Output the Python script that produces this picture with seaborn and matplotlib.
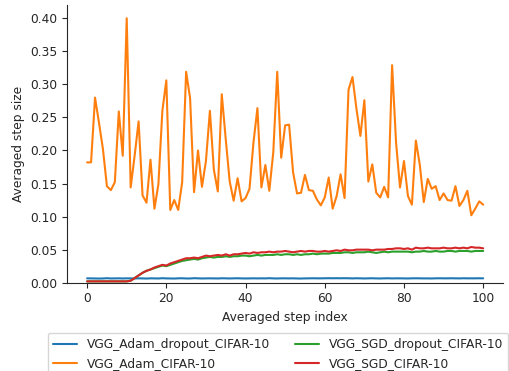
import numpy as np
import pandas as pd
import matplotlib
matplotlib.use("Agg")
import matplotlib.pyplot as plt
import seaborn as sns

steps = list(range(101))

adam_dropout = [0.0066, 0.0065, 0.0064, 0.0063, 0.0064, 0.0068, 0.0064, 0.0065, 0.0066, 0.0064,
                0.0066, 0.0065, 0.0064, 0.0066, 0.0065, 0.0063, 0.0066, 0.0065, 0.0064, 0.0068,
                0.0065, 0.0064, 0.0063, 0.0066, 0.0067, 0.0064, 0.0064, 0.0068, 0.0066, 0.0064,
                0.0065, 0.0066, 0.0065, 0.0064, 0.0067, 0.0066, 0.0064, 0.0066, 0.0067, 0.0065,
                0.0064, 0.0065, 0.0066, 0.0065, 0.0066, 0.0065, 0.0068, 0.0065, 0.0064, 0.0066,
                0.0066, 0.0065, 0.0066, 0.0064, 0.0063, 0.0065, 0.0066, 0.0067, 0.0066, 0.0066,
                0.0067, 0.0068, 0.0067, 0.0068, 0.0067, 0.0068, 0.0067, 0.0065, 0.0067, 0.0066,
                0.0064, 0.0066, 0.0067, 0.0065, 0.0064, 0.0066, 0.0067, 0.0065, 0.0066, 0.0066,
                0.0065, 0.0064, 0.0066, 0.0067, 0.0066, 0.0065, 0.0065, 0.0064, 0.0066, 0.0067,
                0.0066, 0.0066, 0.0067, 0.0066, 0.0065, 0.0067, 0.0066, 0.0066, 0.0066, 0.0067,
                0.0066]

adam = [0.182, 0.182, 0.280, 0.242, 0.202, 0.146, 0.140, 0.152, 0.259, 0.192,
        0.400, 0.144, 0.192, 0.244, 0.132, 0.121, 0.186, 0.112, 0.149, 0.260,
        0.306, 0.110, 0.125, 0.110, 0.152, 0.319, 0.279, 0.137, 0.200, 0.145,
        0.184, 0.260, 0.171, 0.138, 0.285, 0.217, 0.153, 0.124, 0.158, 0.123,
        0.128, 0.142, 0.212, 0.264, 0.144, 0.178, 0.139, 0.197, 0.319, 0.189,
        0.238, 0.239, 0.167, 0.135, 0.136, 0.163, 0.140, 0.139, 0.126, 0.117,
        0.129, 0.159, 0.112, 0.131, 0.164, 0.128, 0.292, 0.311, 0.263, 0.222,
        0.276, 0.153, 0.179, 0.136, 0.129, 0.145, 0.129, 0.329, 0.212, 0.144,
        0.184, 0.131, 0.118, 0.215, 0.178, 0.122, 0.157, 0.142, 0.146, 0.125,
        0.135, 0.125, 0.124, 0.146, 0.116, 0.125, 0.139, 0.102, 0.112, 0.123,
        0.118]

sgd_dropout = [0.002, 0.002, 0.002, 0.002, 0.002, 0.002, 0.002, 0.002, 0.002, 0.002,
               0.002, 0.003, 0.007, 0.011, 0.015, 0.018, 0.020, 0.022, 0.024, 0.026,
               0.025, 0.027, 0.029, 0.031, 0.033, 0.034, 0.035, 0.036, 0.035, 0.037,
               0.038, 0.039, 0.038, 0.039, 0.039, 0.040, 0.039, 0.040, 0.040, 0.041,
               0.041, 0.040, 0.041, 0.042, 0.041, 0.042, 0.042, 0.042, 0.043, 0.042,
               0.043, 0.043, 0.042, 0.043, 0.042, 0.043, 0.043, 0.044, 0.043, 0.044,
               0.044, 0.044, 0.045, 0.045, 0.045, 0.046, 0.046, 0.045, 0.046, 0.046,
               0.046, 0.047, 0.046, 0.045, 0.046, 0.047, 0.046, 0.047, 0.047, 0.047,
               0.047, 0.047, 0.046, 0.047, 0.047, 0.048, 0.047, 0.047, 0.048, 0.047,
               0.047, 0.048, 0.048, 0.047, 0.048, 0.048, 0.048, 0.047, 0.048, 0.048,
               0.048]

sgd = [0.002, 0.002, 0.002, 0.002, 0.002, 0.002, 0.002, 0.002, 0.002, 0.002,
       0.002, 0.003, 0.007, 0.011, 0.015, 0.018, 0.020, 0.023, 0.025, 0.027,
       0.026, 0.029, 0.031, 0.033, 0.035, 0.037, 0.037, 0.038, 0.037, 0.039,
       0.041, 0.040, 0.041, 0.042, 0.041, 0.043, 0.041, 0.043, 0.043, 0.044,
       0.045, 0.044, 0.046, 0.045, 0.046, 0.046, 0.047, 0.046, 0.047, 0.047,
       0.048, 0.047, 0.046, 0.047, 0.048, 0.047, 0.048, 0.048, 0.047, 0.047,
       0.048, 0.047, 0.048, 0.049, 0.048, 0.050, 0.049, 0.049, 0.050, 0.050,
       0.050, 0.050, 0.049, 0.050, 0.050, 0.050, 0.051, 0.051, 0.052, 0.052,
       0.051, 0.052, 0.050, 0.053, 0.052, 0.052, 0.053, 0.052, 0.052, 0.052,
       0.053, 0.052, 0.052, 0.053, 0.052, 0.053, 0.052, 0.054, 0.053, 0.053,
       0.052]

series_names = ["VGG_Adam_dropout_CIFAR-10", "VGG_Adam_CIFAR-10",
                "VGG_SGD_dropout_CIFAR-10", "VGG_SGD_CIFAR-10"]
series_values = [adam_dropout, adam, sgd_dropout, sgd]
colors = ["#1f77b4", "#ff7f0e", "#2ca02c", "#d62728"]

frames = []
for name, vals in zip(series_names, series_values):
    frames.append(pd.DataFrame({"step": steps, "value": vals, "series": name}))
df = pd.concat(frames, ignore_index=True)

sns.set_style("ticks")
plt.rcParams["font.family"] = ["DejaVu Sans"]
plt.rcParams["font.size"] = 8.8
plt.rcParams["axes.labelsize"] = 8.8
plt.rcParams["xtick.labelsize"] = 8.8
plt.rcParams["ytick.labelsize"] = 8.8
plt.rcParams["legend.fontsize"] = 8.8

fig = plt.figure(figsize=(5.10, 3.71), dpi=100)
ax = fig.add_axes([67.3 / 510, 88.3 / 371, (503 - 67.3) / 510, 277.7 / 371])

sns.lineplot(data=df, x="step", y="value", hue="series", hue_order=series_names,
             palette=colors, linewidth=1.5, ax=ax, legend=False)

ax.set_ylim(0, 0.42)
ax.set_xlim(-5, 105)
ax.set_xticks([0, 20, 40, 60, 80, 100])
ax.set_yticks([0.0, 0.05, 0.10, 0.15, 0.20, 0.25, 0.30, 0.35, 0.40])
ax.yaxis.set_major_formatter(matplotlib.ticker.FormatStrFormatter("%.2f"))
ax.set_xlabel("Averaged step index")
ax.set_ylabel("Averaged step size")
sns.despine(ax=ax)

handles = ax.get_lines()[:4]
fig.legend(handles, series_names, ncol=2, loc="upper left",
           bbox_to_anchor=(48 / 510, 1 - 333 / 371), borderaxespad=0,
           frameon=True, fontsize=8.8, columnspacing=2.0)

fig.savefig("out.png", dpi=100)
